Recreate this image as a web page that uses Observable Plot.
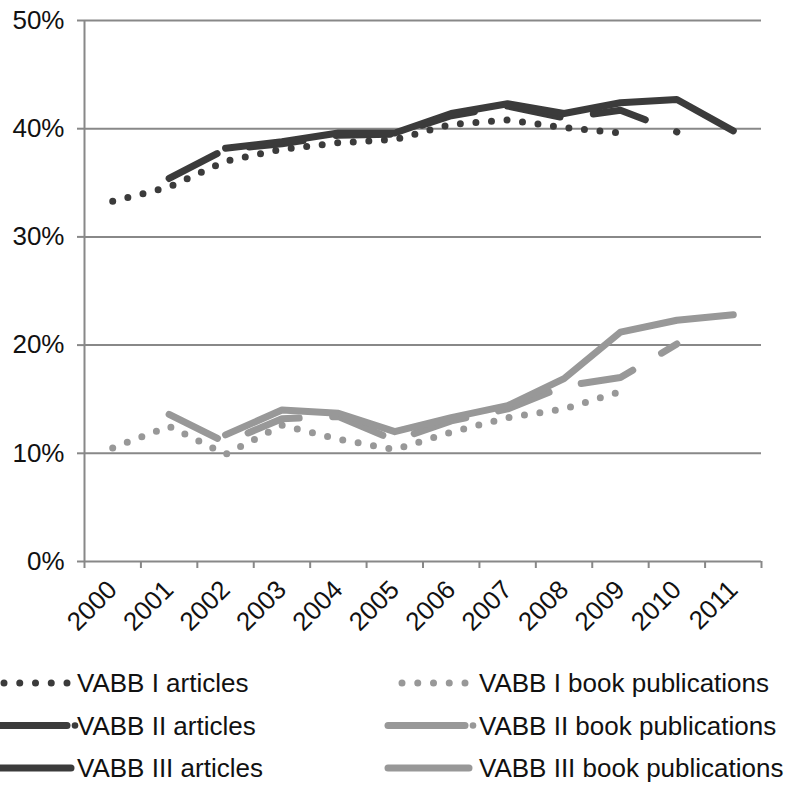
<!DOCTYPE html>
<html>
<head>
<meta charset="utf-8">
<script src="https://cdn.jsdelivr.net/npm/d3@7"></script>
<script src="https://cdn.jsdelivr.net/npm/@observablehq/plot@0.6"></script>
<style>
  html, body { margin: 0; padding: 0; background: #ffffff; }
  #chart svg { display: block; }
</style>
</head>
<body>
<div id="chart"></div>
<script>
// ---- data (percent) ----
const years = [2000, 2001, 2002, 2003, 2004, 2005, 2006, 2007, 2008, 2009, 2010, 2011];
const vabb1Articles = [33.3, 34.6, 37.0, 38.1, 38.7, 39.0, 40.4, 40.8, 40.1, 39.6, null, null];
const vabb2Articles = [null, 35.4, 38.1, 38.6, 39.4, 39.5, 41.2, 42.1, 41.0, 41.7, 39.7, null];
const vabb3Articles = [null, null, 38.2, 38.8, 39.6, 39.6, 41.4, 42.3, 41.4, 42.4, 42.7, 39.8];
const vabb1Books    = [10.5, 12.5, 9.9, 12.6, 11.3, 10.35, 11.95, 13.3, 14.1, 15.7, null, null];
const vabb2Books    = [null, 13.6, 11.0, 13.2, 13.4, 11.2, 13.0, 14.1, 16.2, 17.0, 20.1, null];
const vabb3Books    = [null, null, 11.7, 14.0, 13.7, 12.0, 13.3, 14.4, 16.9, 21.2, 22.3, 22.8];
const seriesNames = ["VABB I articles", "VABB II articles", "VABB III articles",
                     "VABB I book publications", "VABB II book publications", "VABB III book publications"];
const yTicks = [0, 10, 20, 30, 40, 50];

// ---- styles ----
const dark = "#3b3b3b", light = "#989898", gridColor = "#888888";
const DOT = "0 15.6", DASH = "54 33.5";
const seriesValues = [vabb1Articles, vabb2Articles, vabb3Articles, vabb1Books, vabb2Books, vabb3Books];
const seriesStyle = [
  {stroke: dark, dash: DOT}, {stroke: dark, dash: DASH}, {stroke: dark, dash: null},
  {stroke: light, dash: DOT}, {stroke: light, dash: DASH}, {stroke: light, dash: null}
];

const rowsFor = (vals, name) => years.map((year, i) => ({year, value: vals[i], series: name}))
  .filter(d => d.value != null);

const boundaries = years.map(y => y - 0.5).concat([years[years.length - 1] + 0.5]);
const font = "'Liberation Sans', Arial, sans-serif";

const lineMarks = seriesValues.map((vals, i) => Plot.line(rowsFor(vals, seriesNames[i]), {
  x: "year", y: "value",
  stroke: seriesStyle[i].stroke, strokeWidth: 7,
  strokeDasharray: seriesStyle[i].dash || undefined,
  strokeLinecap: "round", strokeLinejoin: "round"
}));

const chart = Plot.plot({
  width: 791, height: 650,
  marginLeft: 84, marginRight: 30, marginTop: 20, marginBottom: 89,
  style: {fontFamily: font, fontSize: "26px", color: "#111", background: "#ffffff", overflow: "visible"},
  x: {domain: [boundaries[0], boundaries[boundaries.length - 1]], axis: null, label: null},
  y: {domain: [0, 50], axis: null, label: null},
  marks: [
    Plot.gridY({ticks: yTicks, stroke: gridColor, strokeOpacity: 1, strokeWidth: 2}),
    Plot.ruleX([boundaries[0]], {stroke: gridColor, strokeWidth: 2}),
    Plot.axisY({ticks: yTicks, tickSize: 7, tickPadding: 13, tickFormat: d => d + "%", label: null,
                stroke: gridColor, strokeWidth: 2, fontSize: 26, fill: "#111"}),
    Plot.axisX({ticks: boundaries, tickSize: 7, tickFormat: () => "", label: null,
                stroke: gridColor, strokeWidth: 2}),
    Plot.axisX({ticks: years, tickSize: 0, tickPadding: 24, tickRotate: -45, textAnchor: "end", label: null,
                tickFormat: d => String(d), fontSize: 26, fill: "#111"}),
    ...lineMarks
  ]
});
document.getElementById("chart").appendChild(chart);

// ---- legend ----
const legend = d3.create("svg").attr("width", 791).attr("height", 137)
  .style("display", "block").style("font-family", font);
const rowY = [33, 75.5, 118];
const colX = [0, 398];
const textX = [77, 479];
const order = [[0, 1, 2], [3, 4, 5]];
order.forEach((col, c) => col.forEach((si, r) => {
  const g = legend.append("g");
  const st = seriesStyle[si];
  const y = rowY[r], x0 = colX[c];
  if (st.dash === DOT) {
    g.append("line").attr("x1", x0 + 4).attr("x2", x0 + 69).attr("y1", y).attr("y2", y)
      .attr("stroke", st.stroke).attr("stroke-width", 7).attr("stroke-linecap", "round")
      .attr("stroke-dasharray", "0 15.75");
  } else if (st.dash === DASH) {
    g.append("line").attr("x1", x0 - 10).attr("x2", x0 + 67).attr("y1", y).attr("y2", y)
      .attr("stroke", st.stroke).attr("stroke-width", 7).attr("stroke-linecap", "round");
    g.append("circle").attr("cx", x0 + 75).attr("cy", y).attr("r", 3.3).attr("fill", st.stroke);
  } else {
    g.append("line").attr("x1", x0 - 10).attr("x2", x0 + 71).attr("y1", y).attr("y2", y)
      .attr("stroke", st.stroke).attr("stroke-width", 7).attr("stroke-linecap", "round");
  }
  g.append("text").attr("x", textX[c]).attr("y", y).attr("dy", "0.35em")
    .attr("font-size", 26).attr("fill", "#111").text(seriesNames[si]);
}));
document.getElementById("chart").appendChild(legend.node());
</script>
</body>
</html>
